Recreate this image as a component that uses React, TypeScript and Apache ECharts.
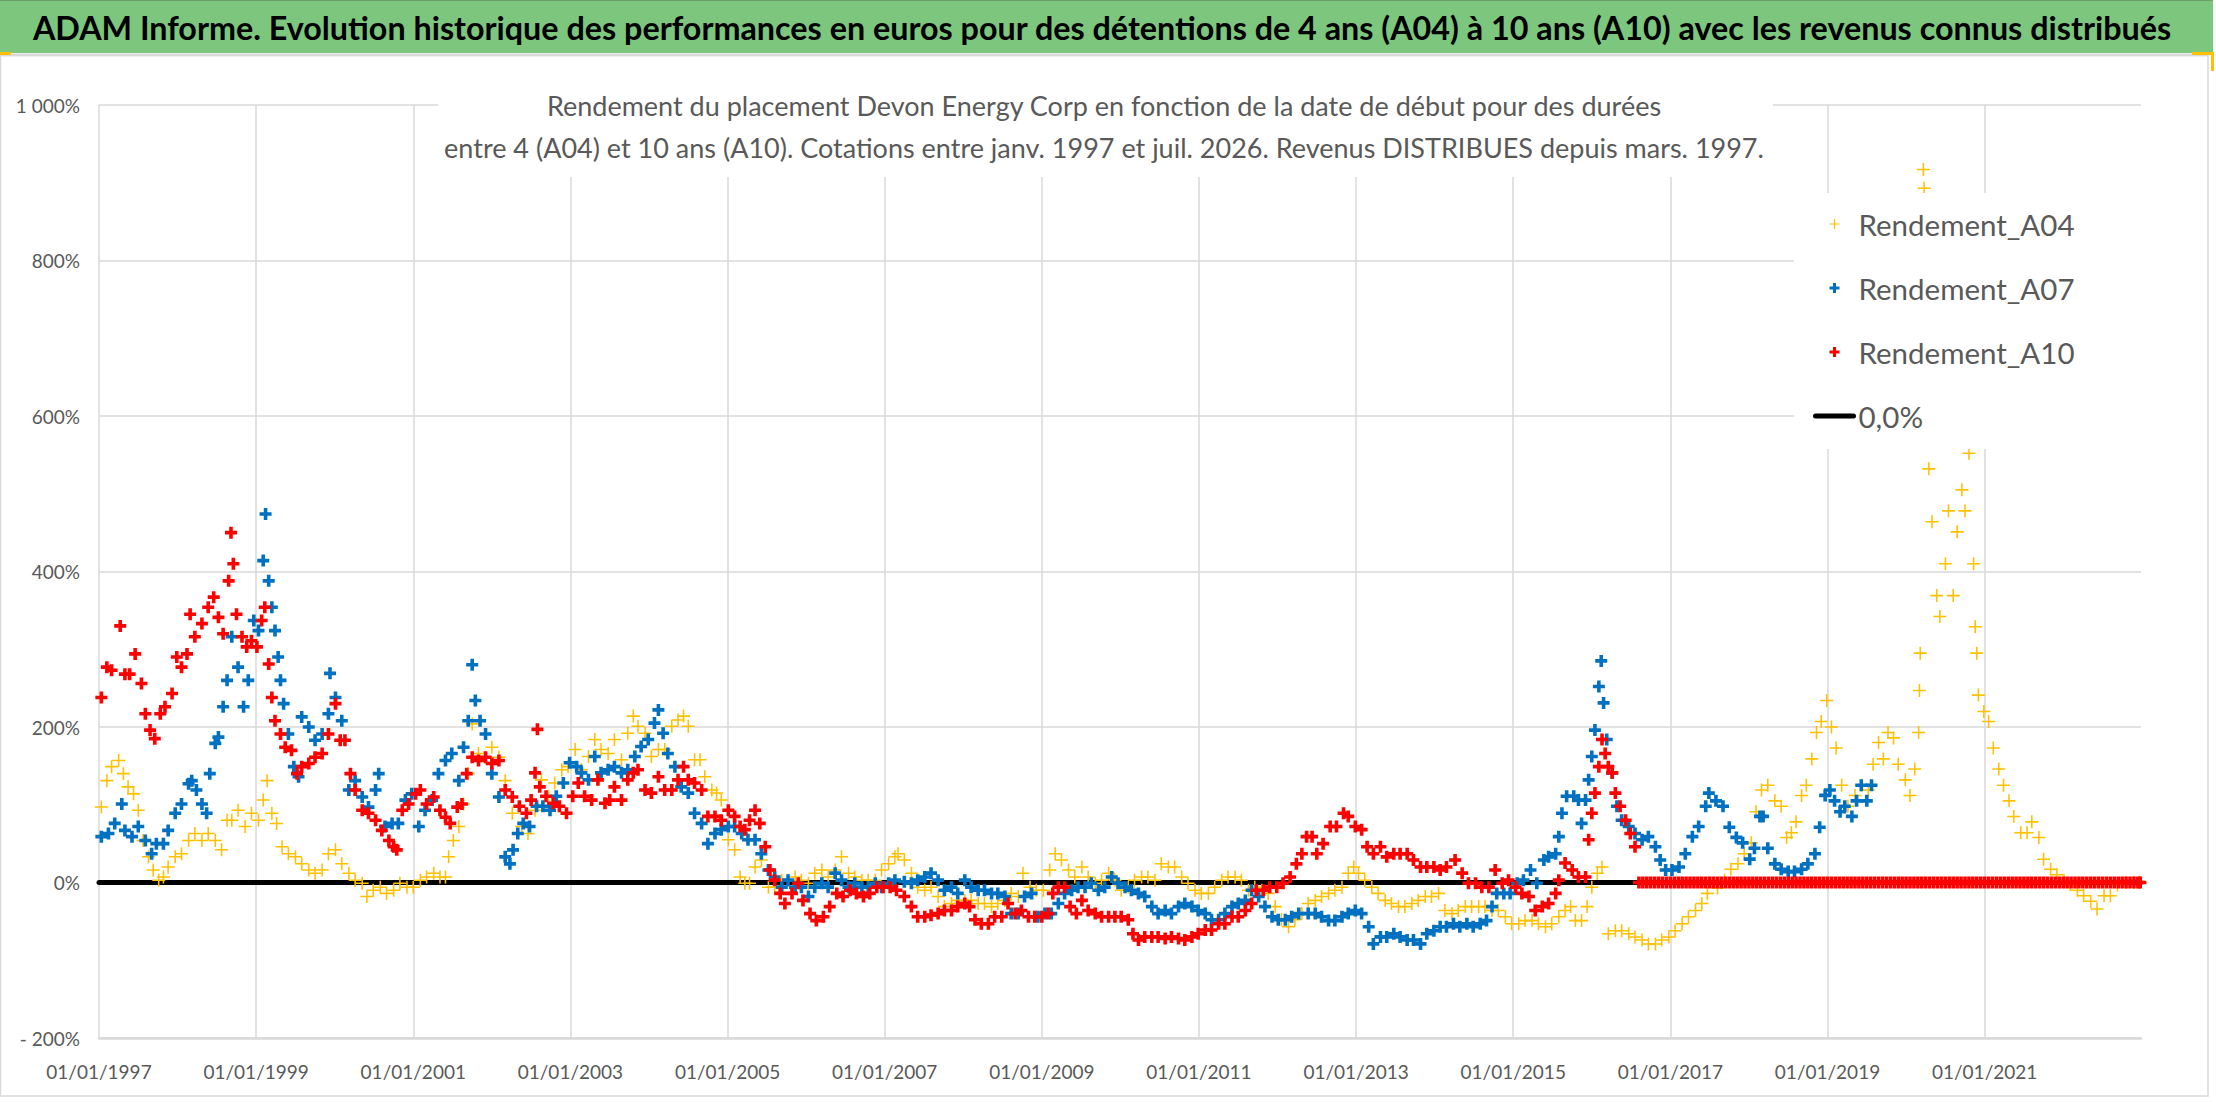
import React, { useEffect, useRef } from "react";
import * as echarts from "echarts";

const FONT = "Lato, 'Open Sans', 'DejaVu Sans', sans-serif";

const TITLE =
  "ADAM Informe. Evolution historique des performances en euros pour des détentions de 4 ans (A04) à 10 ans (A10) avec les revenus connus distribués";
const SUBTITLE_1 =
  "Rendement du placement Devon Energy Corp en fonction de la date de début pour des durées";
const SUBTITLE_2 =
  "entre 4 (A04) et 10 ans (A10). Cotations entre janv. 1997 et juil. 2026. Revenus DISTRIBUES depuis mars. 1997.";

const SERIES_NAMES = ["Rendement_A04", "Rendement_A07", "Rendement_A10", "0,0%"];

const X_START = 1997;
const X_END = 2022.99;
const X_STEP = 2;
const Y_MIN = -200;
const Y_MAX = 1000;
const Y_STEP = 200;

// [decimal year of start date, return in %]
const A04: [number, number][] = [
  [1997.03, 97], [1997.1, 131], [1997.16, 149], [1997.25, 157], [1997.31, 140], [1997.37, 123], [1997.44, 114], [1997.5, 93], [1997.56, 54], [1997.63, 33],
  [1997.69, 16], [1997.76, 3], [1997.82, 7], [1997.88, 20], [1997.97, 33], [1998.05, 37], [1998.14, 54], [1998.22, 63], [1998.31, 54], [1998.39, 63],
  [1998.48, 54], [1998.56, 42], [1998.63, 80], [1998.69, 80], [1998.77, 93], [1998.86, 72], [1998.94, 89], [1999.03, 80], [1999.09, 106], [1999.14, 131],
  [1999.2, 89], [1999.26, 76], [1999.33, 46], [1999.41, 37], [1999.5, 33], [1999.58, 24], [1999.67, 16], [1999.75, 12], [1999.84, 16], [1999.92, 37],
  [2000.01, 42], [2000.09, 24], [2000.18, 12], [2000.26, 3], [2000.35, -1], [2000.41, -18], [2000.49, -10], [2000.58, -6], [2000.66, -14], [2000.75, -10],
  [2000.83, -1], [2000.92, -6], [2001.0, -6], [2001.09, 3], [2001.17, 7], [2001.26, 12], [2001.34, 7], [2001.41, 7], [2001.45, 33], [2001.51, 54],
  [2001.58, 72], [2001.64, 101], [2001.7, 140], [2001.75, 204], [2001.83, 166], [2001.92, 161], [2002.0, 174], [2002.09, 161], [2002.17, 131], [2002.26, 89],
  [2002.38, 72], [2002.46, 63], [2002.55, 93], [2002.63, 132], [2002.72, 111], [2002.8, 128], [2002.89, 145], [2002.97, 149], [2003.06, 171], [2003.14, 145],
  [2003.23, 162], [2003.31, 184], [2003.39, 171], [2003.48, 166], [2003.56, 184], [2003.65, 158], [2003.73, 192], [2003.8, 214], [2003.86, 201], [2003.95, 192],
  [2004.03, 162], [2004.12, 171], [2004.2, 171], [2004.29, 201], [2004.37, 209], [2004.44, 214], [2004.5, 201], [2004.58, 158], [2004.65, 158], [2004.71, 136],
  [2004.8, 119], [2004.86, 115], [2004.92, 106], [2005.01, 55], [2005.09, 42], [2005.16, 7], [2005.22, -1], [2005.28, -1], [2005.35, 20], [2005.43, 29],
  [2005.52, -6], [2005.6, -6], [2005.69, 3], [2005.77, 3], [2005.86, 7], [2005.94, 3], [2006.03, -1], [2006.11, 12], [2006.2, 16], [2006.28, 7],
  [2006.37, 16], [2006.45, 33], [2006.54, 12], [2006.62, 7], [2006.71, 3], [2006.79, 3], [2006.88, 3], [2006.96, 16], [2007.05, 24], [2007.13, 33],
  [2007.17, 37], [2007.25, 29], [2007.34, 12], [2007.42, -6], [2007.51, -10], [2007.59, -6], [2007.68, -18], [2007.76, -31], [2007.85, -27], [2007.93, -23],
  [2008.02, -23], [2008.1, -23], [2008.19, -27], [2008.27, -27], [2008.36, -31], [2008.44, -27], [2008.53, -23], [2008.61, -14], [2008.7, -18], [2008.76, 12],
  [2008.85, -6], [2008.93, -10], [2009.02, -10], [2009.1, 16], [2009.17, 37], [2009.25, 29], [2009.34, 16], [2009.42, 7], [2009.51, 20], [2009.59, 7],
  [2009.68, -1], [2009.76, 3], [2009.85, 12], [2009.93, 3], [2010.01, -10], [2010.1, -6], [2010.18, 3], [2010.27, 7], [2010.35, 7], [2010.44, 3],
  [2010.52, 24], [2010.61, 20], [2010.69, 20], [2010.78, 7], [2010.86, -1], [2010.95, -10], [2011.03, -14], [2011.12, -14], [2011.2, -6], [2011.29, 3],
  [2011.37, 7], [2011.46, 7], [2011.54, 3], [2011.63, -10], [2011.71, -6], [2011.8, -10], [2011.88, -14], [2011.97, -31], [2012.05, -48], [2012.14, -57],
  [2012.22, -48], [2012.31, -40], [2012.39, -27], [2012.48, -23], [2012.56, -18], [2012.65, -14], [2012.73, -10], [2012.82, -6], [2012.9, 12], [2012.97, 20],
  [2013.03, 12], [2013.11, 3], [2013.2, -6], [2013.28, -14], [2013.37, -23], [2013.45, -27], [2013.54, -31], [2013.62, -31], [2013.71, -27], [2013.79, -23],
  [2013.88, -18], [2013.96, -18], [2014.05, -14], [2014.13, -36], [2014.22, -40], [2014.3, -36], [2014.39, -31], [2014.47, -31], [2014.56, -31], [2014.64, -31],
  [2014.73, -36], [2014.81, -36], [2014.9, -44], [2014.98, -53], [2015.07, -53], [2015.15, -49], [2015.24, -49], [2015.32, -53], [2015.41, -57], [2015.49, -53],
  [2015.58, -44], [2015.66, -36], [2015.73, -31], [2015.79, -49], [2015.87, -49], [2015.94, -31], [2016.0, -6], [2016.07, 12], [2016.13, 20], [2016.21, -66],
  [2016.3, -62], [2016.38, -62], [2016.47, -66], [2016.55, -70], [2016.64, -74], [2016.72, -79], [2016.81, -79], [2016.89, -74], [2016.98, -70], [2017.06, -62],
  [2017.15, -53], [2017.23, -44], [2017.32, -36], [2017.4, -27], [2017.47, -14], [2017.6, -7], [2017.69, 3], [2017.77, 17], [2017.86, 24], [2017.94, 37],
  [2018.03, 51], [2018.09, 91], [2018.16, 119], [2018.24, 125], [2018.33, 105], [2018.41, 98], [2018.48, 58], [2018.54, 64], [2018.6, 78], [2018.67, 112],
  [2018.73, 125], [2018.8, 159], [2018.86, 193], [2018.92, 207], [2018.99, 234], [2019.05, 200], [2019.11, 173], [2019.18, 125], [2019.26, 98], [2019.35, 112],
  [2019.43, 125], [2019.52, 119], [2019.58, 152], [2019.65, 180], [2019.71, 159], [2019.77, 193], [2019.84, 186], [2019.9, 152], [2019.99, 132], [2020.05, 112],
  [2020.11, 146], [2020.16, 193], [2020.17, 247], [2020.18, 295], [2020.22, 917], [2020.23, 893], [2020.29, 532], [2020.33, 464], [2020.39, 369], [2020.43, 342],
  [2020.5, 410], [2020.54, 478], [2020.6, 369], [2020.65, 451], [2020.71, 505], [2020.75, 478], [2020.8, 552], [2020.86, 410], [2020.88, 329], [2020.9, 295],
  [2020.92, 241], [2020.99, 220], [2021.05, 207], [2021.11, 173], [2021.18, 146], [2021.24, 125], [2021.31, 105], [2021.37, 85], [2021.46, 64], [2021.54, 64],
  [2021.6, 78], [2021.69, 58], [2021.75, 30], [2021.84, 17], [2021.92, 10], [2022.01, 3], [2022.09, -3], [2022.18, -10], [2022.26, -17], [2022.35, -24],
  [2022.43, -34], [2022.52, -17], [2022.6, -17], [2022.69, -3], [2022.8, 0], [2022.9, 0], [2022.98, 0],
];

const A07: [number, number][] = [
  [1997.03, 59], [1997.12, 63], [1997.2, 76], [1997.29, 101], [1997.33, 67], [1997.42, 59], [1997.5, 72], [1997.59, 54], [1997.67, 37], [1997.73, 50],
  [1997.82, 50], [1997.88, 67], [1997.97, 89], [1998.05, 101], [1998.14, 127], [1998.18, 131], [1998.24, 119], [1998.31, 101], [1998.37, 89], [1998.41, 140],
  [1998.48, 179], [1998.52, 187], [1998.58, 226], [1998.63, 260], [1998.69, 316], [1998.77, 277], [1998.84, 226], [1998.9, 260], [1998.97, 337], [1999.03, 324],
  [1999.09, 414], [1999.12, 474], [1999.16, 388], [1999.2, 354], [1999.24, 324], [1999.28, 290], [1999.31, 260], [1999.35, 230], [1999.41, 191], [1999.48, 149],
  [1999.54, 136], [1999.58, 213], [1999.67, 200], [1999.75, 183], [1999.84, 191], [1999.92, 217], [1999.94, 269], [2000.01, 238], [2000.09, 208], [2000.18, 119],
  [2000.26, 131], [2000.35, 110], [2000.43, 97], [2000.52, 119], [2000.56, 140], [2000.64, 72], [2000.73, 76], [2000.81, 76], [2000.9, 106], [2000.98, 114],
  [2001.07, 72], [2001.15, 93], [2001.24, 106], [2001.32, 140], [2001.41, 157], [2001.49, 166], [2001.58, 131], [2001.64, 174], [2001.7, 208], [2001.75, 280],
  [2001.79, 234], [2001.85, 208], [2001.92, 191], [2002.0, 140], [2002.09, 110], [2002.17, 33], [2002.23, 24], [2002.27, 42], [2002.33, 63], [2002.4, 76],
  [2002.48, 72], [2002.57, 98], [2002.65, 98], [2002.74, 93], [2002.82, 111], [2002.91, 128], [2002.99, 154], [2003.08, 149], [2003.14, 141], [2003.23, 132],
  [2003.31, 162], [2003.39, 141], [2003.48, 145], [2003.56, 149], [2003.65, 141], [2003.73, 145], [2003.82, 162], [2003.9, 175], [2003.99, 184], [2004.07, 205],
  [2004.12, 222], [2004.18, 192], [2004.24, 166], [2004.33, 149], [2004.41, 123], [2004.5, 115], [2004.58, 89], [2004.67, 76], [2004.75, 50], [2004.84, 63],
  [2004.92, 68], [2005.01, 72], [2005.09, 72], [2005.18, 63], [2005.26, 55], [2005.35, 55], [2005.43, 37], [2005.52, 16], [2005.6, 7], [2005.69, -6],
  [2005.77, 3], [2005.86, -6], [2005.94, -6], [2006.03, -18], [2006.11, -6], [2006.2, -1], [2006.28, -6], [2006.37, 12], [2006.45, 3], [2006.54, -6],
  [2006.62, -1], [2006.71, -6], [2006.79, -6], [2006.88, -1], [2006.96, -6], [2007.05, -1], [2007.13, 3], [2007.25, 1], [2007.34, -1], [2007.42, 3],
  [2007.51, 7], [2007.59, 12], [2007.68, 3], [2007.76, -10], [2007.85, -6], [2007.93, -14], [2008.02, 3], [2008.1, -6], [2008.19, -10], [2008.27, -10],
  [2008.36, -14], [2008.44, -14], [2008.53, -18], [2008.61, -40], [2008.7, -40], [2008.78, -18], [2008.87, -14], [2008.95, -44], [2009.04, -40], [2009.12, -40],
  [2009.21, -27], [2009.29, -14], [2009.38, -10], [2009.46, -6], [2009.55, -6], [2009.63, -1], [2009.72, -10], [2009.8, -6], [2009.89, 7], [2009.97, -1],
  [2010.06, -6], [2010.14, -10], [2010.23, -14], [2010.31, -18], [2010.4, -31], [2010.48, -40], [2010.57, -36], [2010.65, -40], [2010.74, -31], [2010.82, -27],
  [2010.91, -31], [2010.99, -36], [2011.08, -40], [2011.16, -48], [2011.25, -48], [2011.33, -40], [2011.42, -31], [2011.5, -27], [2011.59, -23], [2011.67, -10],
  [2011.76, -18], [2011.84, -31], [2011.93, -44], [2012.01, -48], [2012.1, -48], [2012.18, -44], [2012.27, -40], [2012.39, -40], [2012.48, -40], [2012.56, -44],
  [2012.65, -49], [2012.73, -49], [2012.82, -44], [2012.9, -40], [2012.99, -36], [2013.07, -40], [2013.16, -57], [2013.22, -79], [2013.31, -70], [2013.39, -70],
  [2013.48, -66], [2013.56, -70], [2013.65, -74], [2013.73, -74], [2013.82, -79], [2013.9, -66], [2013.99, -62], [2014.07, -57], [2014.15, -57], [2014.24, -53],
  [2014.32, -57], [2014.41, -53], [2014.49, -57], [2014.58, -53], [2014.66, -49], [2014.73, -31], [2014.79, -14], [2014.88, -14], [2014.96, -14], [2015.05, -1],
  [2015.13, 3], [2015.22, 16], [2015.3, -1], [2015.39, 29], [2015.45, 33], [2015.54, 37], [2015.58, 59], [2015.62, 89], [2015.68, 111], [2015.77, 111],
  [2015.83, 106], [2015.87, 76], [2015.92, 106], [2015.96, 132], [2016.0, 162], [2016.04, 196], [2016.09, 252], [2016.12, 285], [2016.15, 231], [2016.19, 184],
  [2016.26, 141], [2016.32, 98], [2016.38, 80], [2016.47, 72], [2016.55, 63], [2016.64, 55], [2016.72, 59], [2016.81, 46], [2016.87, 29], [2016.94, 16],
  [2017.02, 16], [2017.11, 20], [2017.19, 37], [2017.28, 59], [2017.36, 72], [2017.45, 98], [2017.49, 115], [2017.58, 105], [2017.67, 98], [2017.75, 71],
  [2017.84, 58], [2017.92, 51], [2018.01, 30], [2018.07, 44], [2018.14, 85], [2018.18, 85], [2018.24, 44], [2018.33, 24], [2018.41, 17], [2018.5, 14],
  [2018.58, 14], [2018.67, 17], [2018.75, 24], [2018.84, 37], [2018.9, 71], [2018.97, 112], [2019.03, 119], [2019.09, 105], [2019.16, 91], [2019.22, 98],
  [2019.31, 85], [2019.37, 105], [2019.43, 125], [2019.5, 105], [2019.56, 125],
];

const A10: [number, number][] = [
  [1997.03, 238], [1997.1, 277], [1997.16, 273], [1997.27, 330], [1997.33, 268], [1997.39, 268], [1997.46, 294], [1997.54, 256], [1997.59, 217], [1997.65, 196],
  [1997.71, 185], [1997.78, 217], [1997.84, 226], [1997.93, 243], [1997.99, 290], [1998.05, 277], [1998.12, 294], [1998.16, 345], [1998.22, 316], [1998.31, 333],
  [1998.39, 354], [1998.46, 367], [1998.52, 341], [1998.58, 320], [1998.65, 388], [1998.68, 450], [1998.71, 410], [1998.75, 345], [1998.82, 316], [1998.88, 303],
  [1998.94, 311], [1999.01, 303], [1999.07, 337], [1999.11, 354], [1999.16, 281], [1999.2, 238], [1999.24, 208], [1999.31, 191], [1999.37, 174], [1999.45, 170],
  [1999.52, 140], [1999.58, 149], [1999.67, 153], [1999.75, 161], [1999.84, 166], [1999.92, 191], [2000.01, 230], [2000.07, 183], [2000.13, 183], [2000.2, 140],
  [2000.26, 119], [2000.35, 93], [2000.43, 89], [2000.52, 80], [2000.6, 67], [2000.69, 54], [2000.75, 46], [2000.79, 42], [2000.86, 93], [2000.94, 101],
  [2001.03, 114], [2001.09, 119], [2001.17, 101], [2001.26, 110], [2001.34, 93], [2001.41, 84], [2001.47, 76], [2001.56, 97], [2001.62, 101], [2001.68, 140],
  [2001.75, 161], [2001.83, 157], [2001.92, 161], [2002.0, 153], [2002.09, 157], [2002.17, 119], [2002.26, 110], [2002.35, 98], [2002.44, 89], [2002.5, 106],
  [2002.55, 141], [2002.58, 197], [2002.61, 123], [2002.69, 111], [2002.78, 102], [2002.86, 98], [2002.95, 89], [2003.03, 111], [2003.1, 128], [2003.18, 111],
  [2003.27, 106], [2003.35, 132], [2003.44, 102], [2003.5, 106], [2003.56, 123], [2003.65, 106], [2003.73, 132], [2003.8, 141], [2003.86, 145], [2003.95, 119],
  [2004.03, 115], [2004.12, 136], [2004.2, 119], [2004.29, 119], [2004.37, 132], [2004.44, 149], [2004.5, 132], [2004.58, 128], [2004.67, 119], [2004.75, 85],
  [2004.84, 85], [2004.92, 80], [2005.01, 93], [2005.09, 85], [2005.16, 72], [2005.22, 68], [2005.28, 80], [2005.35, 93], [2005.41, 76], [2005.48, 46],
  [2005.54, 16], [2005.6, 3], [2005.67, -14], [2005.73, -27], [2005.82, -14], [2005.9, -1], [2005.96, -23], [2006.05, -40], [2006.13, -49], [2006.22, -44],
  [2006.3, -31], [2006.39, -14], [2006.47, -18], [2006.56, -10], [2006.64, -14], [2006.73, -18], [2006.81, -14], [2006.9, -6], [2006.98, -6], [2007.07, -6],
  [2007.15, -10], [2007.25, -18], [2007.34, -31], [2007.42, -44], [2007.51, -44], [2007.59, -42], [2007.68, -40], [2007.76, -36], [2007.85, -36], [2007.93, -31],
  [2008.02, -27], [2008.08, -31], [2008.15, -48], [2008.23, -53], [2008.32, -53], [2008.4, -44], [2008.49, -44], [2008.57, -27], [2008.66, -40], [2008.74, -36],
  [2008.83, -44], [2008.91, -44], [2009.0, -44], [2009.08, -40], [2009.14, -14], [2009.21, -6], [2009.29, -6], [2009.36, -31], [2009.44, -40], [2009.51, -23],
  [2009.59, -36], [2009.68, -40], [2009.76, -44], [2009.85, -44], [2009.93, -44], [2010.01, -44], [2010.1, -48], [2010.16, -66], [2010.23, -74], [2010.31, -70],
  [2010.4, -70], [2010.48, -70], [2010.57, -72], [2010.65, -70], [2010.74, -72], [2010.82, -74], [2010.91, -70], [2010.99, -66], [2011.08, -61], [2011.16, -61],
  [2011.25, -53], [2011.33, -53], [2011.42, -44], [2011.5, -44], [2011.59, -36], [2011.67, -27], [2011.73, -10], [2011.82, -10], [2011.9, -6], [2011.99, -6],
  [2012.07, -1], [2012.16, 7], [2012.24, 24], [2012.31, 37], [2012.37, 59], [2012.44, 59], [2012.5, 37], [2012.58, 50], [2012.67, 72], [2012.75, 72],
  [2012.84, 89], [2012.9, 85], [2012.99, 72], [2013.07, 68], [2013.14, 46], [2013.22, 37], [2013.31, 46], [2013.39, 33], [2013.48, 37], [2013.56, 37],
  [2013.65, 37], [2013.73, 29], [2013.82, 20], [2013.9, 20], [2013.99, 20], [2014.07, 16], [2014.15, 20], [2014.26, 29], [2014.35, 12], [2014.43, -1],
  [2014.52, -1], [2014.6, -6], [2014.69, -6], [2014.77, 16], [2014.86, -1], [2014.94, 3], [2015.03, -6], [2015.11, -14], [2015.2, -18], [2015.28, -36],
  [2015.37, -31], [2015.45, -27], [2015.54, -14], [2015.58, 3], [2015.66, 25], [2015.75, 16], [2015.83, 7], [2015.92, 7], [2015.96, 55], [2016.0, 89],
  [2016.04, 115], [2016.09, 149], [2016.13, 184], [2016.17, 166], [2016.21, 149], [2016.26, 141], [2016.3, 115], [2016.36, 98], [2016.43, 80], [2016.49, 63],
  [2016.55, 46],
];

// start dates for which the 10-year return is shown at 0 (no complete 10-year window)
const A10_ZERO_DATES: number[] = [
  2016.6, 2016.65, 2016.7, 2016.75, 2016.8, 2016.85, 2016.9, 2016.95,
  2017.0, 2017.05, 2017.1, 2017.15, 2017.2, 2017.25, 2017.3, 2017.35, 2017.4, 2017.45, 2017.5, 2017.55, 2017.6, 2017.65, 2017.7, 2017.75, 2017.8, 2017.85, 2017.9, 2017.95,
  2018.0, 2018.05, 2018.1, 2018.15, 2018.2, 2018.25, 2018.3, 2018.35, 2018.4, 2018.45, 2018.5, 2018.55, 2018.6, 2018.65, 2018.7, 2018.75, 2018.8, 2018.85, 2018.9, 2018.95,
  2019.0, 2019.05, 2019.1, 2019.15, 2019.2, 2019.25, 2019.3, 2019.35, 2019.4, 2019.45, 2019.5, 2019.55, 2019.6, 2019.65, 2019.7, 2019.75, 2019.8, 2019.85, 2019.9, 2019.95,
  2020.0, 2020.05, 2020.1, 2020.15, 2020.2, 2020.25, 2020.3, 2020.35, 2020.4, 2020.45, 2020.5, 2020.55, 2020.6, 2020.65, 2020.7, 2020.75, 2020.8, 2020.85, 2020.9, 2020.95,
  2021.0, 2021.05, 2021.1, 2021.15, 2021.2, 2021.25, 2021.3, 2021.35, 2021.4, 2021.45, 2021.5, 2021.55, 2021.6, 2021.65, 2021.7, 2021.75, 2021.8, 2021.85, 2021.9, 2021.95,
  2022.0, 2022.05, 2022.1, 2022.15, 2022.2, 2022.25, 2022.3, 2022.35, 2022.4, 2022.45, 2022.5, 2022.55, 2022.6, 2022.65, 2022.7, 2022.75, 2022.8, 2022.85, 2022.9, 2022.95, 2022.98,
];

const ZERO_LINE: [number, number][] = [
  [1997.0, 0],
  [2022.98, 0],
];

const COLORS = { a04: "#FFC000", a07: "#0070C0", a10: "#FF0000", zero: "#000000" };

const PLUS_THIN = "path://M4.4,0H5.6V4.4H10V5.6H5.6V10H4.4V5.6H0V4.4H4.4Z";
const PLUS_BOLD = "path://M3.5,0H6.5V3.5H10V6.5H6.5V10H3.5V6.5H0V3.5H3.5Z";

const toXY = (arr: [number, number][]) => arr.map(([t, v]) => [t - X_START, v]);

function yLabel(v: number): string {
  if (v < 0) return "- " + Math.abs(v) + "%";
  if (v >= 1000) return String(v).replace(/\B(?=(\d{3})+(?!\d))/g, " ") + "%";
  return v + "%";
}

export default function App() {
  const ref = useRef<HTMLDivElement>(null);

  useEffect(() => {
    document.body.style.margin = "0";
    document.body.style.overflow = "hidden";
    if (!ref.current) return;
    const chart = echarts.init(ref.current, null, { renderer: "svg" });

    const a10All = toXY(A10).concat(A10_ZERO_DATES.map((t) => [t - X_START, 0]));

    chart.setOption({
      animation: false,
      backgroundColor: "#ffffff",
      textStyle: { fontFamily: FONT },
      grid: { left: 99, right: 75, top: 105, bottom: 64, containLabel: false },
      xAxis: {
        type: "value",
        min: 0,
        max: X_END - X_START,
        interval: X_STEP,
        axisLine: { show: true, onZero: false, lineStyle: { color: "#D9D9D9", width: 2.5 } },
        axisTick: { show: false },
        splitLine: { show: true, showMaxLine: false, lineStyle: { color: "#D9D9D9", width: 1.5 } },
        axisLabel: {
          formatter: (v: number) => "01/01/" + (X_START + v),
          showMaxLabel: false,
          color: "#595959",
          fontSize: 19,
          margin: 24,
          fontFamily: FONT,
        },
      },
      yAxis: {
        type: "value",
        min: Y_MIN,
        max: Y_MAX,
        interval: Y_STEP,
        axisLine: { show: false },
        axisTick: { show: false },
        splitLine: { show: true, lineStyle: { color: "#D9D9D9", width: 1.5 } },
        axisLabel: { formatter: yLabel, color: "#595959", fontSize: 19, margin: 19, fontFamily: FONT },
      },
      legend: {
        orient: "vertical",
        left: 1794,
        top: 193,
        padding: [15, 80, 17, 19],
        itemGap: 32,
        itemWidth: 38,
        itemHeight: 10,
        backgroundColor: "#ffffff",
        lineStyle: { width: 5 },
        textStyle: { fontSize: 29.5, color: "#595959", fontFamily: FONT, lineHeight: 32 },
        data: [
          SERIES_NAMES[0],
          SERIES_NAMES[1],
          SERIES_NAMES[2],
          { name: SERIES_NAMES[3], itemStyle: { opacity: 0 } },
        ],
      },
      series: [
        {
          name: SERIES_NAMES[3],
          type: "line",
          data: toXY(ZERO_LINE),
          symbol: "none",
          lineStyle: { color: COLORS.zero, width: 5, cap: "round" },
          itemStyle: { color: COLORS.zero },
          z: 1,
        },
        {
          name: SERIES_NAMES[0],
          type: "scatter",
          data: toXY(A04),
          symbol: PLUS_THIN,
          symbolSize: 13,
          itemStyle: { color: COLORS.a04, opacity: 1 },
          z: 2,
        },
        {
          name: SERIES_NAMES[1],
          type: "scatter",
          data: toXY(A07),
          symbol: PLUS_BOLD,
          symbolSize: 12,
          itemStyle: { color: COLORS.a07, opacity: 1 },
          z: 3,
        },
        {
          name: SERIES_NAMES[2],
          type: "scatter",
          data: a10All,
          symbol: PLUS_BOLD,
          symbolSize: 12,
          itemStyle: { color: COLORS.a10, opacity: 1 },
          z: 4,
        },
      ],
      graphic: [
        { type: "rect", z: 0, shape: { x: 0, y: 0, width: 2213, height: 53 }, style: { fill: "#7DC67E" } },
        { type: "line", z: 0, shape: { x1: 0, y1: 0.5, x2: 2213, y2: 0.5 }, style: { stroke: "#6E9E6E", lineWidth: 1 } },
        { type: "line", z: 0, shape: { x1: 0, y1: 55, x2: 2208, y2: 55 }, style: { stroke: "#D9D9D9", lineWidth: 3 } },
        { type: "rect", z: 0, shape: { x: 0.5, y: 55, width: 2207.5, height: 1041 }, style: { fill: "none", stroke: "#D9D9D9", lineWidth: 1.5 } },
        { type: "rect", z: 0, shape: { x: 0, y: 52, width: 11, height: 3 }, style: { fill: "#FFC000" } },
        { type: "rect", z: 0, shape: { x: 2192, y: 52, width: 22, height: 3 }, style: { fill: "#FFC000" } },
        { type: "rect", z: 0, shape: { x: 2211, y: 52, width: 3, height: 19 }, style: { fill: "#FFC000" } },
        {
          type: "text",
          z: 10,
          x: 1102,
          y: 27,
          style: {
            text: TITLE,
            fontSize: 32.3,
            fontWeight: "bold",
            fontFamily: FONT,
            fill: "#000000",
            align: "center",
            verticalAlign: "middle",
          },
        },
        { type: "rect", z: 10, shape: { x: 438, y: 60, width: 1335, height: 117 }, style: { fill: "#ffffff" } },
        {
          type: "text",
          z: 11,
          x: 1104,
          y: 105,
          style: { text: SUBTITLE_1, fontSize: 27, fontFamily: FONT, fill: "#595959", align: "center", verticalAlign: "middle" },
        },
        {
          type: "text",
          z: 11,
          x: 1104,
          y: 147,
          style: { text: SUBTITLE_2, fontSize: 27, fontFamily: FONT, fill: "#595959", align: "center", verticalAlign: "middle" },
        },
      ],
    });

    return () => chart.dispose();
  }, []);

  return <div ref={ref} style={{ width: 2216, height: 1102 }} />;
}
